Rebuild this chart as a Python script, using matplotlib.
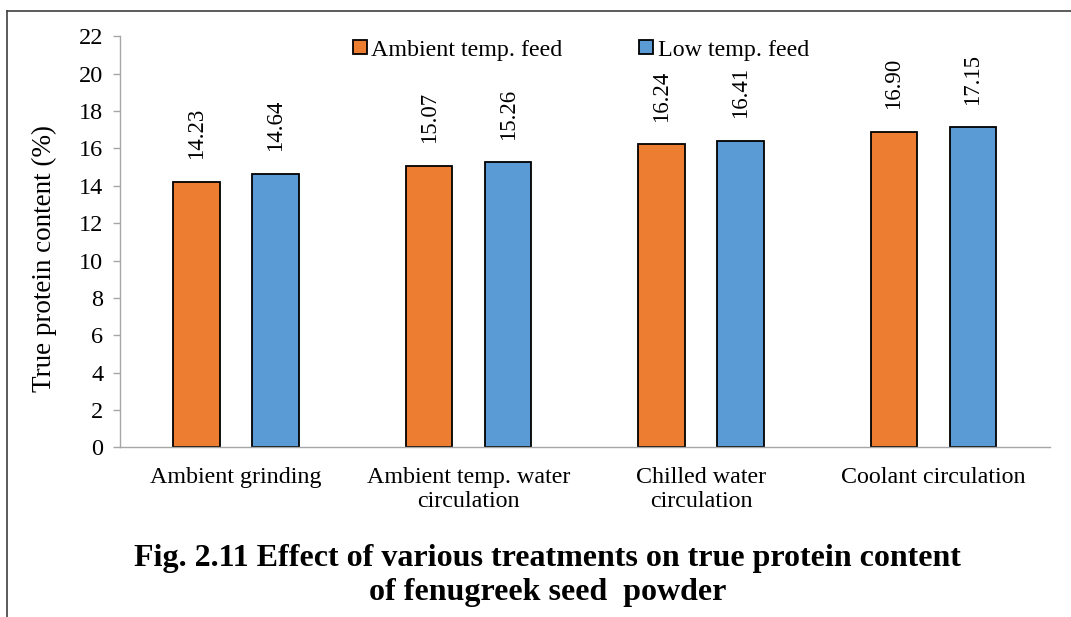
import numpy as np
import matplotlib.pyplot as plt
from matplotlib.lines import Line2D

plt.rcParams['font.family'] = ['Liberation Serif', 'DejaVu Serif']

treatments = ['Ambient grinding', 'Ambient temp. water\ncirculation',
              'Chilled water\ncirculation', 'Coolant circulation']
ambient_feed = [14.23, 15.07, 16.24, 16.90]
low_feed = [14.64, 15.26, 16.41, 17.15]
series_names = ['Ambient temp. feed', 'Low temp. feed']
yticks = list(range(0, 23, 2))

orange = '#ED7D31'
blue = '#5B9BD5'

fig = plt.figure(figsize=(10.71, 6.17), dpi=100)
ax = fig.add_axes([0.112, 0.275, 0.868, 0.666])

x = np.arange(len(treatments))
w = 0.2
off = 0.17
b1 = ax.bar(x - off, ambient_feed, w, color=orange, edgecolor='black', linewidth=1.3)
b2 = ax.bar(x + off, low_feed, w, color=blue, edgecolor='black', linewidth=1.3)

for bars, vals in [(b1, ambient_feed), (b2, low_feed)]:
    for r, v in zip(bars, vals):
        ax.text(r.get_x() + r.get_width() / 2, v + 1.2, f'{v:.2f}',
                rotation=90, ha='center', va='bottom', fontsize=16.5)

ax.set_xlim(-0.5, len(treatments) - 0.5)
ax.set_ylim(0, 22)
ax.set_yticks(yticks)
ax.set_yticklabels([str(t) for t in yticks], fontsize=17.5)
ax.set_xticks(x)
ax.set_xticklabels(treatments, fontsize=17.3, linespacing=1.2)
ax.tick_params(axis='x', length=0, pad=14)
ax.tick_params(axis='y', length=5, color='#A6A6A6', width=1, pad=7)
for s in ['top', 'right']:
    ax.spines[s].set_visible(False)
for s in ['left', 'bottom']:
    ax.spines[s].set_color('#A6A6A6')
    ax.spines[s].set_linewidth(1)
ax.set_ylabel('True protein content (%)', fontsize=19.5)
ax.yaxis.set_label_coords(-0.068, 0.46)

ax.legend([b1, b2], series_names, loc='upper center', bbox_to_anchor=(0.496, 1.045),
          ncol=2, frameon=False, fontsize=17.3, handlelength=0.55, handleheight=0.55,
          handletextpad=0.2, columnspacing=3.2)

fig.text(0.511, 0.067, 'Fig. 2.11 Effect of various treatments on true protein content\n'
         'of fenugreek seed  powder', ha='center', va='center',
         fontsize=23, fontweight='bold', linespacing=1.25)

# page frame: top and left edge only
fig.add_artist(Line2D([0.0065, 1.0], [0.982, 0.982], transform=fig.transFigure,
                      color='#404040', linewidth=1.2))
fig.add_artist(Line2D([0.0065, 0.0065], [0.0, 0.982], transform=fig.transFigure,
                      color='#404040', linewidth=1.2))

fig.savefig('out.png', dpi=100)
